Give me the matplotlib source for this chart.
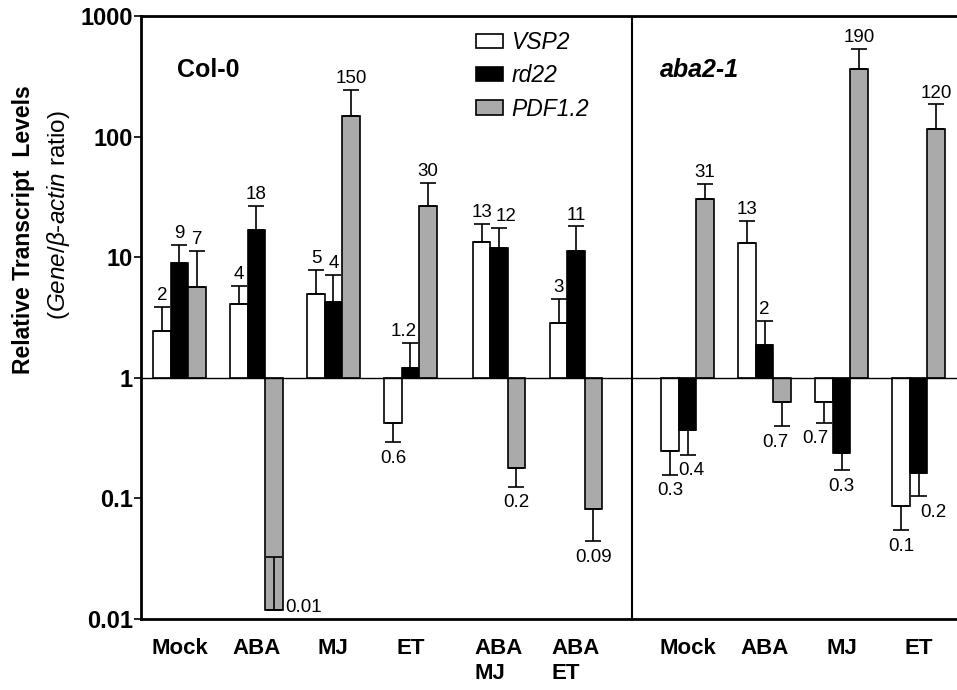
#!/usr/bin/env python3
"""
Relative transcript levels of VSP2, rd22 and PDF1.2 in Col-0 and aba2-1.
"""

import matplotlib
matplotlib.use('Agg')
import matplotlib.pyplot as plt
from matplotlib.patches import Patch
from matplotlib.ticker import FixedLocator, FixedFormatter

plt.rcParams['font.family'] = ['Liberation Sans', 'DejaVu Sans']
plt.rcParams['mathtext.fontset'] = 'custom'
plt.rcParams['mathtext.rm'] = 'Liberation Sans'
plt.rcParams['mathtext.it'] = 'Liberation Sans:italic'

# treatments: 6 for Col-0, 4 for aba2-1
groups = ['Mock', 'ABA', 'MJ', 'ET', 'ABA\nMJ', 'ABA\nET',
          'Mock', 'ABA', 'MJ', 'ET']
group_pos = [0, 1, 2, 3, 4.15, 5.15, 6.6, 7.6, 8.6, 9.6]

# bar values (fold change) and the end of each error bar
vsp2 = [2.44, 4.13, 5.0, 0.425, 13.4, 2.85, 0.247, 13.1, 0.63, 0.0863]
vsp2_err = [3.87, 5.78, 7.9, 0.293, 18.8, 4.48, 0.157, 20.0, 0.425, 0.0542]
rd22 = [8.87, 16.7, 4.26, 1.2, 12.0, 11.3, 0.372, 1.86, 0.238, 0.162]
rd22_err = [12.7, 26.5, 7.1, 1.96, 17.6, 18.0, 0.231, 2.96, 0.171, 0.104]
pdf12 = [5.67, 0.0118, 149, 26.5, 0.178, 0.081, 30.1, 0.634, 363, 115]
pdf12_err = [11.3, 0.0326, 243, 41.4, 0.125, 0.044, 40.3, 0.398, 530, 185]

# printed numbers
vsp2_lab = ['2', '4', '5', '0.6', '13', '3', '0.3', '13', '0.7', '0.1']
rd22_lab = ['9', '18', '4', '1.2', '12', '11', '0.4', '2', '0.3', '0.2']
pdf12_lab = ['7', '0.01', '150', '30', '0.2', '0.09', '31', '0.7', '190', '120']

# nudges (points) for labels that sit off-centre in the original
nudge = {('rd22', 3): -5, ('rd22', 4): 5, ('rd22', 6): 3, ('vsp2', 8): -6,
         ('rd22', 9): 11, ('pdf', 7): -5}

W = 0.226
LAB_SIZE = 13.5

fig = plt.figure(figsize=(9.57, 6.9), dpi=100)
ax = fig.add_axes([0.1473, 0.1029, 0.8527, 0.8739])
ax.set_yscale('log')
ax.set_ylim(0.01, 1000)
ax.set_xlim(-0.5, 10.1)

series = [('vsp2', vsp2, vsp2_err, vsp2_lab, 'white', -W),
          ('rd22', rd22, rd22_err, rd22_lab, 'black', 0),
          ('pdf', pdf12, pdf12_err, pdf12_lab, '#aaaaaa', W)]

for name, vals, errs, labs, color, off in series:
    xs = [g + off for g in group_pos]
    heights = [v - 1 for v in vals]
    ax.bar(xs, heights, bottom=1, width=W, color=color, edgecolor='black',
           linewidth=1.2, zorder=2)
    lower = [max(v - e, 0) for v, e in zip(vals, errs)]
    upper = [max(e - v, 0) for v, e in zip(vals, errs)]
    ax.errorbar(xs, vals, yerr=[lower, upper], fmt='none', ecolor='black',
                elinewidth=1.2, capsize=5.5, capthick=1.2, zorder=3)
    for i, (x, v, e, t) in enumerate(zip(xs, vals, errs, labs)):
        dx = nudge.get((name, i), 0)
        if v < 1 and e > v:
            # error bar drawn back into the bar: label beside the bar end
            ax.annotate(t, (x + W / 2, v), xytext=(2, 2),
                        textcoords='offset points', ha='left', va='center',
                        fontsize=LAB_SIZE)
        elif v >= 1:
            ax.annotate(t, (x, e), xytext=(dx, 2), textcoords='offset points',
                        ha='center', va='bottom', fontsize=LAB_SIZE)
        else:
            ax.annotate(t, (x, e), xytext=(dx, -5.5), textcoords='offset points',
                        ha='center', va='top', fontsize=LAB_SIZE)

ax.axhline(1, color='black', linewidth=1, zorder=4)
ax.axvline(5.877, color='black', linewidth=1.5, zorder=4)

ax.spines['right'].set_visible(False)
for s in ('left', 'bottom', 'top'):
    ax.spines[s].set_linewidth(2)

ax.yaxis.set_major_locator(FixedLocator([0.01, 0.1, 1, 10, 100, 1000]))
ax.yaxis.set_major_formatter(FixedFormatter(['0.01', '0.1', '1', '10', '100', '1000']))
ax.yaxis.set_minor_locator(FixedLocator([]))
ax.tick_params(axis='y', length=5, width=1.2, pad=1, labelsize=17)
for t in ax.get_yticklabels():
    t.set_fontweight('bold')

ax.set_xticks(group_pos)
ax.set_xticklabels(groups, fontsize=16, fontweight='bold',
                   multialignment='left')
ax.tick_params(axis='x', length=0, pad=14)

ax.text(0.082, 0.91, 'Col-0', transform=ax.transAxes, ha='center',
        va='center', fontsize=18, fontweight='bold')
ax.text(0.684, 0.91, 'aba2-1', transform=ax.transAxes, ha='center',
        va='center', fontsize=18, fontweight='bold', style='italic')

handles = [Patch(facecolor=c, edgecolor='black', linewidth=1.2)
           for c in ('white', 'black', '#aaaaaa')]
ax.legend(handles, ['VSP2', 'rd22', 'PDF1.2'], loc='upper left',
          bbox_to_anchor=(0.4105, 0.975), frameon=False, borderpad=0,
          borderaxespad=0, handlelength=1.17, handleheight=0.58,
          handletextpad=0.37, labelspacing=0.45,
          prop={'size': 16.5, 'style': 'italic'})

fig.text(0.0245, 0.667, 'Relative Transcript  Levels', rotation=90,
         ha='center', va='center', fontsize=16.5, fontweight='bold')
fig.text(0.061, 0.688, r'($\it{Gene/\beta}$-$\it{actin}$ ratio)', rotation=90,
         ha='center', va='center', fontsize=17.5)

fig.savefig('out.png', dpi=100)
